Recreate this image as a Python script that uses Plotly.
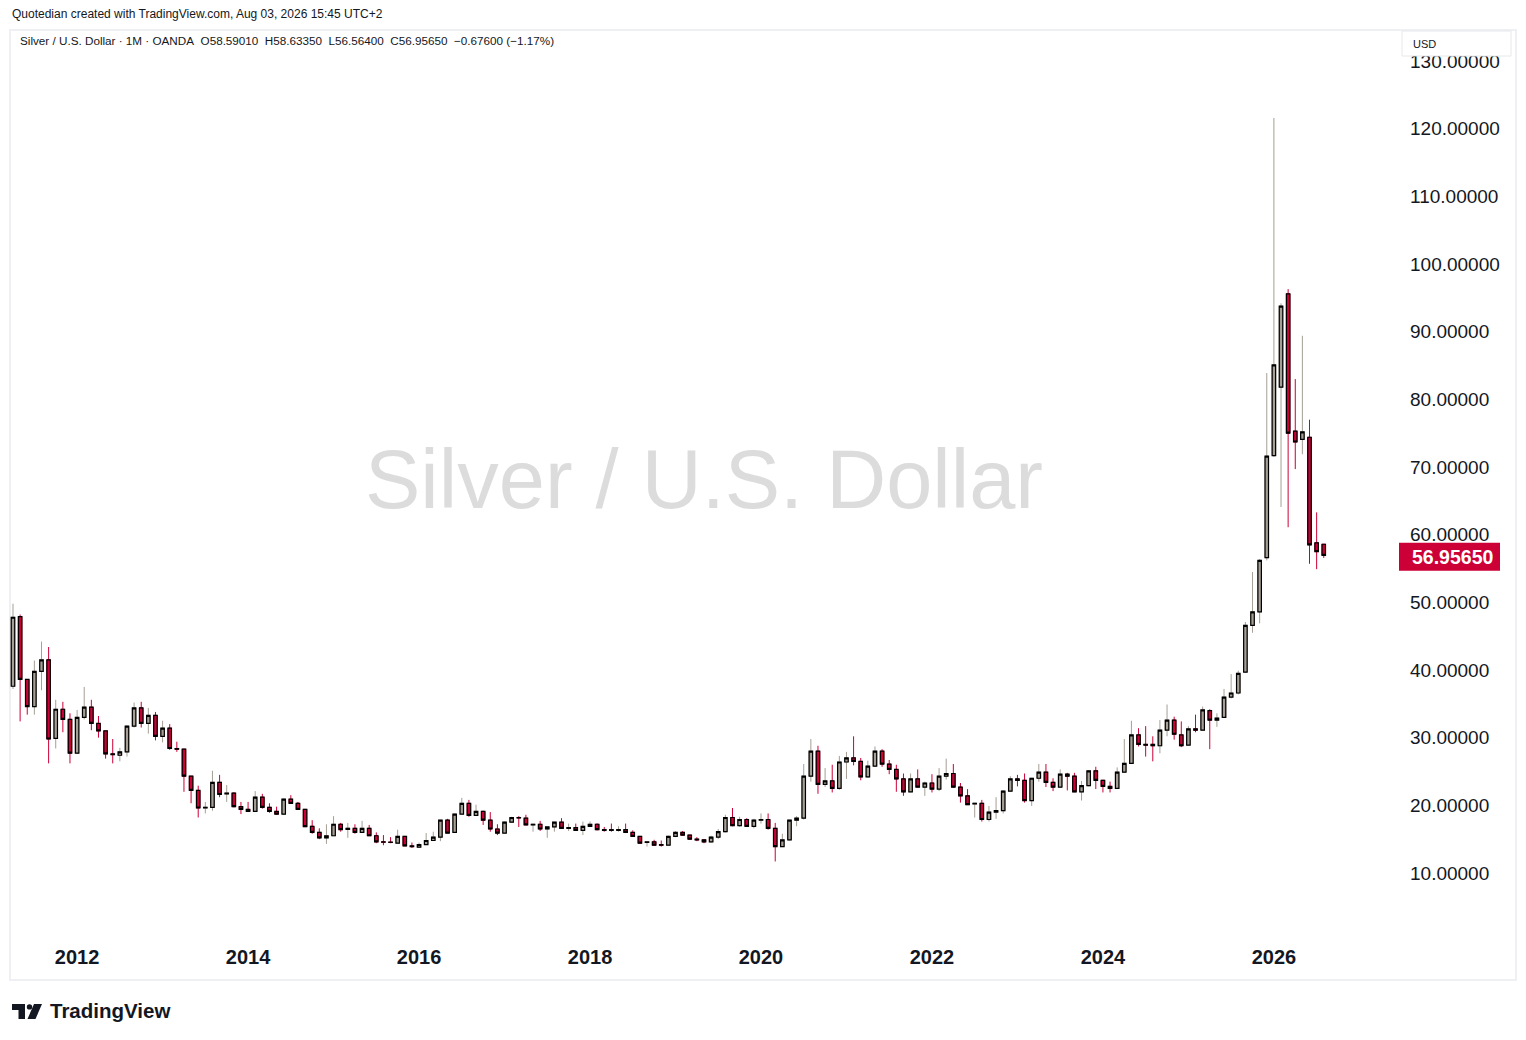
import plotly.graph_objects as go
import pandas as pd

# ---------------- data (monthly OHLC, Silver / USD, OANDA) ----------------
months = [p.strftime("%Y-%m") for p in pd.period_range("2011-04", "2026-08", freq="M")]

open_ = [37.6, 47.9, 38.6, 34.6, 39.8, 41.5, 29.9, 34.2, 32.7,
         27.7, 33.0, 34.5, 32.1, 31.0, 27.6, 27.4, 27.9, 31.7, 34.4, 32.1, 33.3,
         30.2, 31.4, 28.4, 28.3, 24.3, 22.2, 19.6, 19.7, 23.4, 21.7, 21.8, 19.8,
         19.4, 19.1, 21.2, 19.7, 19.1, 18.7, 20.9, 20.3, 19.4, 16.9, 16.0, 15.2,
         15.5, 17.2, 16.45, 16.6, 16.0, 16.6, 15.5, 14.6, 14.55, 14.4, 15.4, 14.0,
         13.8, 14.2, 14.8, 15.3, 17.8, 16.0, 18.7, 20.3, 18.5, 19.1, 17.8, 16.5,
         15.9, 17.5, 18.2, 18.1, 17.1, 17.2, 16.5, 16.8, 17.5, 16.6, 16.7, 16.3,
         16.9, 17.2, 16.4, 16.4, 16.3, 16.4, 16.0, 15.4, 14.5, 14.6, 14.2, 14.1,
         15.4, 16.0, 15.6, 15.0, 14.9, 14.6, 15.3, 16.1, 18.2, 17.0, 17.9, 16.9,
         17.8, 17.9, 16.6, 13.9, 14.9, 17.8, 18.1, 24.3, 28.0, 23.1, 23.6, 22.5,
         26.4, 27.0, 26.5, 24.2, 25.8, 28.0, 26.1, 25.3, 23.9, 22.0, 23.9, 22.7,
         23.3, 22.4, 24.3, 24.7, 22.7, 21.4, 20.2, 20.3, 17.9, 19.0, 19.2, 22.1,
         23.9, 23.7, 20.7, 24.0, 24.9, 23.4, 22.7, 24.6, 24.3, 22.0, 22.9, 25.1,
         23.7, 22.8, 22.5, 24.9, 26.2, 30.4, 29.0, 29.0, 28.8, 31.1, 32.6, 30.4,
         28.9, 31.3, 31.1, 34.0, 32.6, 33.0, 36.0, 36.6, 39.7, 46.6, 48.6, 56.6,
         71.7, 81.8, 95.6, 75.3, 74.1, 74.4, 58.8, 58.5901]

high = [49.8, 48.2, 38.6, 41.4, 44.2, 43.4, 35.6, 35.3, 33.6,
        34.1, 37.5, 35.6, 33.2, 31.0, 29.8, 28.5, 31.7, 35.2, 35.3, 34.4, 33.8,
        32.5, 32.0, 29.4, 28.3, 24.3, 22.9, 20.5, 25.1, 24.5, 23.0, 21.9, 20.5,
        20.5, 22.1, 21.7, 20.3, 19.8, 21.0, 21.5, 20.5, 19.4, 17.8, 16.6, 17.2,
        18.4, 17.4, 17.4, 17.2, 17.7, 17.1, 16.0, 15.6, 15.3, 16.4, 15.4, 14.5,
        14.5, 15.9, 16.1, 17.8, 18.0, 18.8, 21.1, 20.8, 20.1, 19.2, 19.0, 17.2,
        17.6, 18.3, 18.4, 18.6, 17.2, 17.7, 16.8, 17.5, 18.1, 17.3, 17.3, 17.6,
        17.6, 17.3, 16.8, 17.3, 16.9, 17.3, 16.3, 15.4, 14.6, 14.9, 14.8, 15.5,
        16.2, 16.2, 15.6, 15.3, 14.9, 15.5, 16.5, 18.6, 19.6, 18.3, 18.1, 18.0,
        18.8, 18.8, 17.4, 15.8, 17.8, 18.4, 26.1, 29.8, 28.8, 25.5, 26.0, 27.3,
        27.9, 30.2, 27.0, 26.6, 28.7, 28.3, 26.7, 26.0, 24.7, 24.7, 25.3, 23.5,
        24.6, 25.5, 26.9, 26.1, 23.3, 22.4, 20.3, 20.8, 19.9, 21.2, 22.2, 24.3,
        24.5, 24.7, 24.0, 26.1, 26.1, 24.0, 25.3, 24.8, 24.8, 23.6, 25.2, 25.7,
        23.7, 23.5, 25.6, 29.8, 32.5, 31.4, 31.7, 30.2, 32.6, 34.9, 33.1, 32.4,
        31.7, 33.4, 34.6, 34.2, 33.6, 37.2, 39.4, 39.9, 47.1, 54.5, 56.4, 83.9,
        121.6, 94.2, 96.3, 83.0, 89.4, 77.0, 63.3, 58.6335]

low = [37.2, 32.4, 33.4, 33.4, 37.0, 26.2, 28.4, 30.8, 26.2,
       27.7, 32.7, 31.1, 30.0, 26.9, 26.2, 26.5, 27.2, 31.5, 31.5, 30.6, 29.6,
       29.3, 28.2, 27.9, 22.0, 20.3, 18.2, 18.8, 19.2, 21.2, 20.5, 19.7, 18.7,
       19.1, 19.1, 19.5, 18.9, 18.6, 18.6, 20.3, 19.3, 16.8, 15.8, 15.0, 14.3,
       15.5, 16.1, 15.2, 15.8, 16.0, 15.5, 14.4, 14.1, 14.4, 14.4, 14.0, 13.7,
       13.8, 14.2, 14.8, 14.7, 15.9, 16.0, 18.7, 18.3, 18.5, 17.1, 16.1, 15.6,
       15.9, 17.5, 16.8, 17.1, 16.1, 16.2, 15.2, 16.1, 16.6, 16.2, 16.3, 15.6,
       16.8, 16.3, 16.1, 16.1, 16.1, 15.9, 15.4, 14.3, 13.9, 14.1, 13.9, 14.1,
       15.3, 15.5, 14.9, 14.7, 14.4, 14.5, 15.0, 16.0, 16.9, 16.8, 16.8, 16.6,
       17.3, 16.4, 11.7, 13.9, 14.8, 16.9, 17.9, 23.5, 21.7, 22.7, 21.9, 22.3,
       23.9, 25.9, 23.7, 24.1, 25.7, 25.7, 24.6, 22.0, 21.4, 22.0, 22.7, 21.4,
       21.9, 22.1, 23.8, 22.6, 20.4, 20.1, 18.2, 17.6, 17.6, 18.0, 18.8, 22.0,
       22.8, 20.4, 19.9, 23.5, 22.7, 22.1, 22.6, 22.2, 22.0, 20.7, 22.8, 22.4,
       21.9, 21.9, 22.5, 24.8, 26.1, 28.7, 27.2, 26.5, 27.7, 30.2, 29.7, 28.6,
       28.9, 30.8, 31.0, 28.3, 31.6, 32.9, 35.8, 36.4, 39.6, 45.5, 46.9, 56.2,
       71.5, 64.1, 61.1, 69.7, 71.9, 55.7, 54.9, 56.564]

close = [47.8, 38.6, 34.6, 39.8, 41.5, 29.8, 34.2, 32.7, 27.7,
         33.0, 34.5, 32.1, 31.0, 27.6, 27.5, 27.9, 31.7, 34.4, 32.1, 33.3, 30.2,
         31.4, 28.4, 28.3, 24.3, 22.2, 19.6, 19.7, 23.4, 21.6, 21.8, 19.8, 19.4,
         19.1, 21.2, 19.7, 19.1, 18.7, 20.9, 20.3, 19.4, 16.85, 16.0, 15.2, 15.5,
         17.2, 16.4, 16.6, 16.0, 16.6, 15.5, 14.6, 14.55, 14.5, 15.4, 14.0, 13.9,
         14.2, 14.8, 15.3, 17.8, 15.9, 18.7, 20.3, 18.5, 19.1, 17.8, 16.5, 15.9,
         17.5, 18.2, 18.15, 17.1, 17.2, 16.5, 16.8, 17.5, 16.6, 16.7, 16.3, 16.9,
         17.2, 16.4, 16.3, 16.3, 16.4, 16.0, 15.4, 14.4, 14.6, 14.1, 14.1, 15.4,
         16.0, 15.6, 15.0, 14.9, 14.6, 15.3, 16.1, 18.2, 17.0, 17.9, 16.9, 17.8,
         17.9, 16.6, 13.9, 14.9, 17.8, 18.1, 24.3, 28.0, 23.1, 23.6, 22.5, 26.4,
         27.0, 26.5, 24.2, 25.8, 28.0, 26.1, 25.3, 23.9, 22.0, 23.9, 22.7, 23.3,
         22.4, 24.3, 24.7, 22.7, 21.4, 20.1, 20.3, 17.9, 19.0, 19.2, 22.1, 23.9,
         23.7, 20.7, 24.0, 24.9, 23.4, 22.7, 24.6, 24.3, 22.0, 22.9, 25.1, 23.7,
         22.8, 22.5, 24.9, 26.2, 30.4, 29.0, 28.9, 28.8, 31.1, 32.6, 30.5, 28.8,
         31.3, 31.1, 34.1, 32.6, 32.9, 36.0, 36.6, 39.5, 46.6, 48.6, 56.2, 71.6,
         85.1, 93.8, 75.0, 73.7, 75.2, 58.5, 57.5, 56.9565]

tick_months = ["2012-01", "2014-01", "2016-01", "2018-01", "2020-01", "2022-01", "2024-01", "2026-01"]
tick_years = ["2012", "2014", "2016", "2018", "2020", "2022", "2024", "2026"]
y_ticks = [10, 20, 30, 40, 50, 60, 70, 80, 90, 100, 110, 120, 130]
last_price = 56.9565

# ---------------- style ----------------
GRAY = "#a59f95"
RED = "#cc0036"
INK = "#131722"
W, H = 1526, 1040
ML, MR, MT, MB = 10, 131, 30, 105
PW, PH = W - ML - MR, H - MT - MB


def fx(px):
    return (px - ML) / PW


def fy(py):
    return (H - MB - py) / PH


body_hi = [max(o, c) for o, c in zip(open_, close)]
body_lo = [min(o, c) for o, c in zip(open_, close)]

fig = go.Figure()
# wicks (coloured)
fig.add_trace(go.Candlestick(
    x=months, open=open_, high=high, low=low, close=close,
    increasing=dict(line=dict(color=GRAY, width=1), fillcolor=GRAY),
    decreasing=dict(line=dict(color=RED, width=1), fillcolor=RED),
    whiskerwidth=0, hoverinfo="skip", showlegend=False))
# bodies with black outline
fig.add_trace(go.Candlestick(
    x=months, open=open_, high=body_hi, low=body_lo, close=close,
    increasing=dict(line=dict(color="#000000", width=1.2), fillcolor=GRAY),
    decreasing=dict(line=dict(color="#000000", width=1.2), fillcolor=RED),
    whiskerwidth=0, hoverinfo="skip", showlegend=False))

shapes = []
# outer frame
shapes.append(dict(type="rect", xref="paper", yref="paper", x0=fx(10), x1=fx(1516), y0=fy(30), y1=fy(980),
                   line=dict(color="#eef0f3", width=2), fillcolor="rgba(0,0,0,0)", layer="below"))
# USD box
shapes.append(dict(type="rect", xref="paper", yref="paper", x0=fx(1402), x1=fx(1511), y0=fy(31), y1=fy(56),
                   line=dict(color="#e6e8ec", width=1), fillcolor="white", layer="above"))
# last price label
shapes.append(dict(type="rect", xref="paper", yref="y", x0=fx(1399), x1=fx(1500),
                   ysizemode="pixel", yanchor=last_price, y0=-15.5, y1=12.5,
                   line=dict(width=0), fillcolor=RED, layer="above"))
# TradingView logo
shapes.append(dict(type="path", xref="paper", yref="paper",
                   path=f"M {fx(12)} {fy(1004)} L {fx(25)} {fy(1004)} L {fx(25)} {fy(1019)} L {fx(18.5)} {fy(1019)} "
                        f"L {fx(18.5)} {fy(1010)} L {fx(12)} {fy(1010)} Z",
                   fillcolor=INK, line=dict(width=0)))
shapes.append(dict(type="circle", xref="paper", yref="paper", x0=fx(26.8), x1=fx(32.2), y0=fy(1004.2), y1=fy(1009.6),
                   fillcolor=INK, line=dict(width=0)))
shapes.append(dict(type="path", xref="paper", yref="paper",
                   path=f"M {fx(34)} {fy(1004)} L {fx(42)} {fy(1004)} L {fx(35.5)} {fy(1019)} L {fx(27.5)} {fy(1019)} Z",
                   fillcolor=INK, line=dict(width=0)))

annotations = [
    dict(text="Quotedian created with TradingView.com, Aug 03, 2026 15:45 UTC+2",
         x=fx(10), y=fy(14), xref="paper", yref="paper", xanchor="left", yanchor="middle",
         showarrow=False, font=dict(family="Liberation Sans", size=12, color=INK)),
    dict(text="Silver / U.S. Dollar · 1M · OANDA\u00a0\u00a0O58.59010\u00a0\u00a0H58.63350\u00a0\u00a0L56.56400"
              "\u00a0\u00a0C56.95650\u00a0\u00a0\u22120.67600 (\u22121.17%)",
         x=fx(18), y=fy(41), xref="paper", yref="paper", xanchor="left", yanchor="middle",
         showarrow=False, font=dict(family="Liberation Sans", size=11.7, color=INK)),
    dict(text="Silver / U.S. Dollar", x=fx(704), y=fy(480), xref="paper", yref="paper",
         xanchor="center", yanchor="middle", showarrow=False,
         font=dict(family="Liberation Sans", size=83, color="#dcdcdc")),
    dict(text="USD", x=fx(1411), y=fy(44), xref="paper", yref="paper", xanchor="left", yanchor="middle",
         showarrow=False, font=dict(family="Liberation Sans", size=11, color=INK)),
    dict(text=f"<b>{last_price:.5f}</b>", x=fx(1452), y=last_price, xref="paper", yref="y",
         xanchor="center", yanchor="middle", yshift=-1.5, showarrow=False,
         font=dict(family="Liberation Sans", size=19.5, color="white")),
    dict(text="<b>TradingView</b>", x=fx(48), y=fy(1011), xref="paper", yref="paper",
         xanchor="left", yanchor="middle", showarrow=False,
         font=dict(family="Liberation Sans", size=20.5, color=INK)),
]

fig.update_layout(
    width=W, height=H, autosize=False,
    margin=dict(l=ML, r=MR, t=MT, b=MB, pad=0),
    paper_bgcolor="white", plot_bgcolor="white",
    boxmode="overlay", boxgap=0.3,
    showlegend=False, hovermode=False,
    shapes=shapes, annotations=annotations,
    xaxis=dict(type="category", categoryorder="array", categoryarray=months,
               range=[-0.42, 194], rangeslider=dict(visible=False),
               tickmode="array", tickvals=tick_months, ticktext=tick_years,
               showgrid=False, zeroline=False, showline=False, ticks="",
               ticklabelstandoff=8,
               tickfont=dict(family="Liberation Sans", size=20, color=INK, weight="bold")),
    yaxis=dict(side="right", range=[0.83, 134.6], tickmode="array", tickvals=y_ticks,
               ticktext=[f"{v:.5f}" for v in y_ticks],
               showgrid=False, zeroline=False, showline=False, ticks="",
               ticklabelstandoff=14,
               tickfont=dict(family="Liberation Sans", size=19, color=INK)),
)

fig.write_html("out.html", config={"displayModeBar": False, "staticPlot": True},
               post_script="document.body.style.margin='0';document.body.style.overflow='hidden';")
